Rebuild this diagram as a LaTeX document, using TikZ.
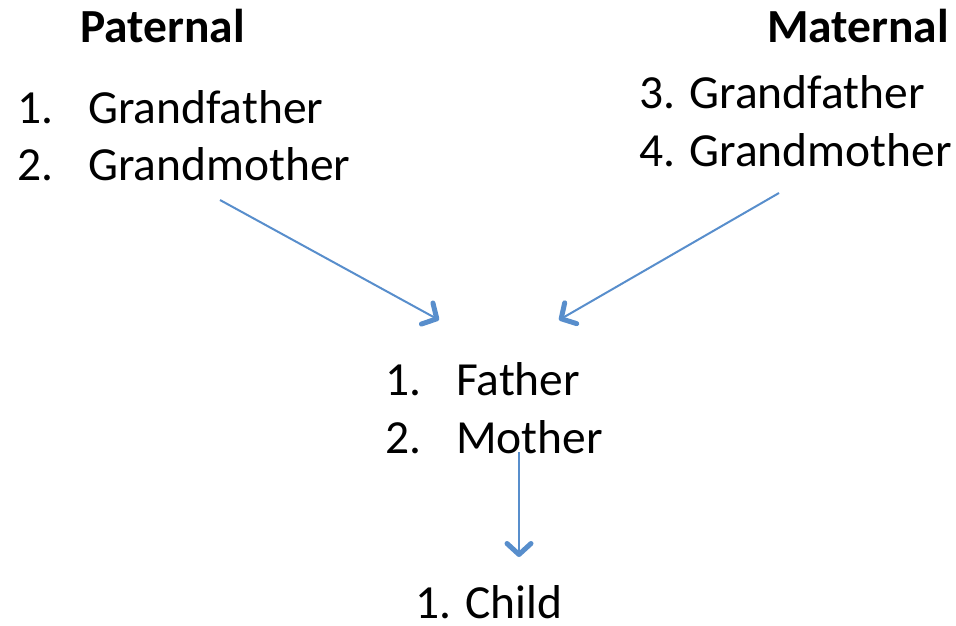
\documentclass[tikz,border=0pt]{standalone}
\usepackage{fontspec}
\setmainfont{Carlito}
\usetikzlibrary{arrows.meta}
\definecolor{arrowblue}{RGB}{88,142,204}
\tikzset{
  txt/.style={anchor=base west,inner sep=0pt,font=\fontsize{47.5}{58}\selectfont},
  hdr/.style={anchor=base west,inner sep=0pt,font=\fontsize{47.5}{58}\selectfont\bfseries},
  conn/.style={draw=arrowblue,line width=2pt,-{Straight Barb[length=11pt,width=24pt,line width=5pt,round]}}
}
\begin{document}
\begin{tikzpicture}[x=1pt,y=-1pt]
\useasboundingbox (0,0) rectangle (956,625);
\node[hdr] (pat) at (80,42) {Paternal};
\node[hdr] (mat) at (767,42) {Maternal};
\node[txt] (p1n) at (17,123) {1.};
\node[txt] (p1) at (88,123) {Grandfather};
\node[txt] (p2n) at (17,180) {2.};
\node[txt] (p2) at (88,180) {Grandmother};
\node[txt] (m1) at (639,108) {3. Grandfather};
\node[txt] (m2) at (639,166) {4. Grandmother};
\node[txt] (f1n) at (385,395) {1.};
\node[txt] (f1) at (456,395) {Father};
\node[txt] (f2n) at (385,453) {2.};
\node[txt] (f2) at (456,453) {Mother};
\node[txt] (ch) at (415,618) {1. Child};
\coordinate (a1s) at (220,200);
\coordinate (a1e) at (439,320);
\coordinate (a2s) at (779,193);
\coordinate (a2e) at (559,320);
\coordinate (a3s) at (519,452);
\coordinate (a3e) at (519,557);
\draw[conn] (a1s) -- (a1e);
\draw[conn] (a2s) -- (a2e);
\draw[conn] (a3s) -- (a3e);
\end{tikzpicture}
\end{document}
